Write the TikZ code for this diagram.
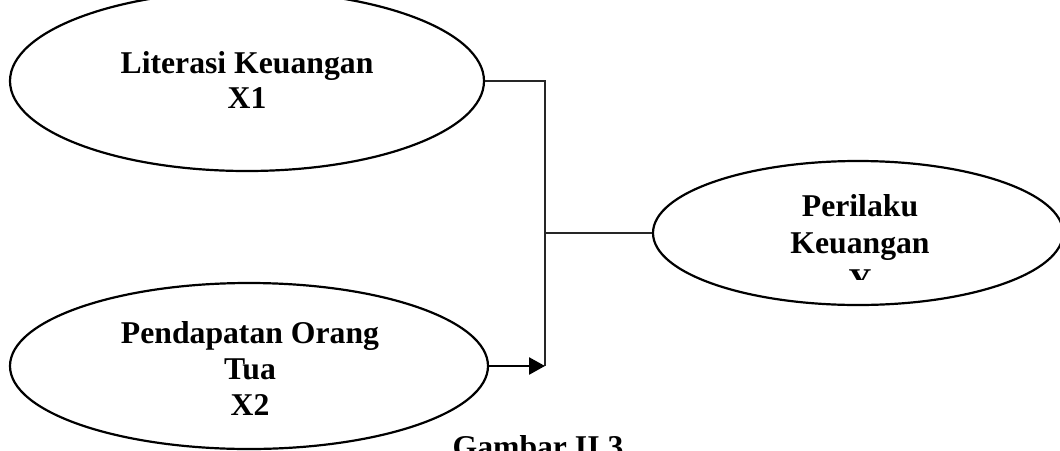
\documentclass[tikz,border=0pt]{standalone}
\usepackage{fontspec}
\setmainfont{Liberation Serif}
\usetikzlibrary{shapes.geometric,arrows.meta}
\tikzset{
  var/.style={ellipse,draw=black,line width=2.2pt,inner sep=0pt},
  lbl/.style={anchor=base,inner sep=0pt,font=\bfseries\fontsize{31.7}{36}\selectfont},
  thin/.style={draw=black!85,line width=1.3pt},
  arr/.style={draw=black,line width=2.6pt,-{Triangle[length=16pt,width=17pt]}}
}
\begin{document}
\begin{tikzpicture}[x=1pt,y=-1pt]
\clip (0,0) rectangle (1060,450);
\fill[white] (0,0) rectangle (1060,450);
% ellipses
\node[var,minimum width=474pt,minimum height=180pt] (x1) at (247,81) {};
\node[var,minimum width=478pt,minimum height=166pt] (x2) at (249,366) {};
\node[var,minimum width=410pt,minimum height=144pt] (y) at (858,233) {};
% labels
\node[lbl] (x1a) at (247,73) {Literasi Keuangan};
\node[lbl] (x1b) at (247,108) {X1};
\node[lbl] (x2a) at (250,343) {Pendapatan Orang};
\node[lbl] (x2b) at (250,379) {Tua};
\node[lbl] (x2c) at (250,415) {X2};
\node[lbl] (ya) at (860,216) {Perilaku};
\node[lbl] (yb) at (860,253) {Keuangan};
\begin{scope}
\clip (700,260) rectangle (1000,279);
\node[lbl] (yc) at (860,290) {Y};
\end{scope}
\node[lbl] (cap) at (538,457) {Gambar II.3};
% connectors
\coordinate (top) at (545,81);
\coordinate (mid) at (545,233);
\coordinate (bot) at (545,366);
\draw[thin] (x1.east) -- (top) -- (bot);
\draw[thin] (mid) -- (y.west);
\draw[arr] (x2.east) -- (bot);
\end{tikzpicture}
\end{document}
